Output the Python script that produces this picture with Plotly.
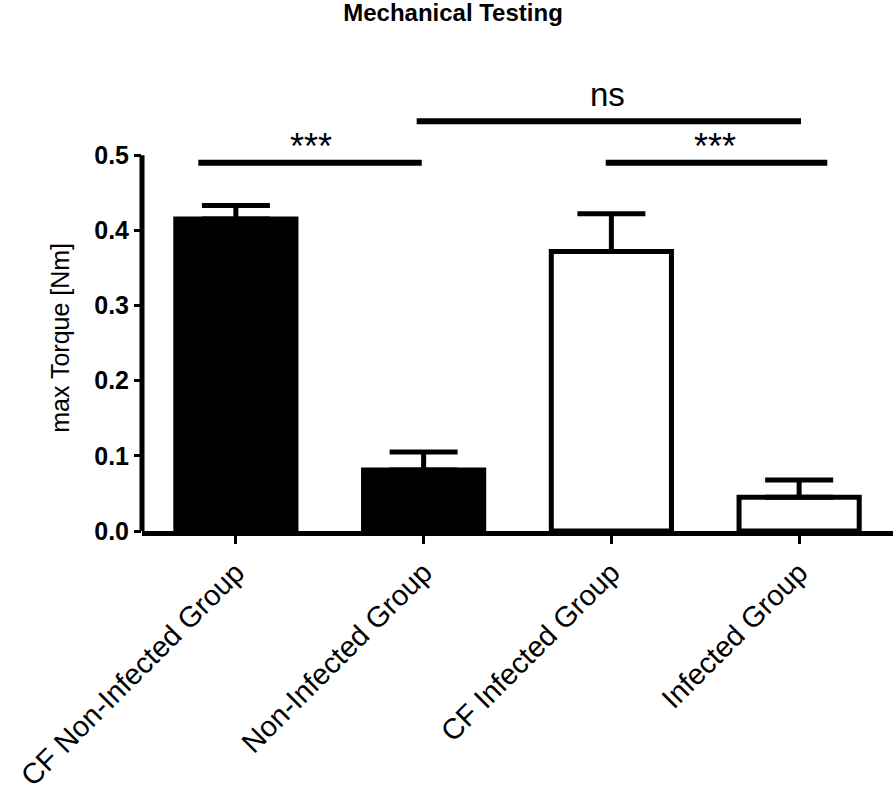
import plotly.graph_objects as go

categories = ["CF Non-Infected Group", "Non-Infected Group", "CF Infected Group", "Infected Group"]
means = [0.415, 0.081, 0.372, 0.045]
sem = [0.018, 0.024, 0.050, 0.023]
fill_colors = ["black", "black", "white", "white"]
y_ticks = [0.0, 0.1, 0.2, 0.3, 0.4, 0.5]

# significance brackets
sig_x0 = [-0.2, 0.963, 1.97]
sig_x1 = [0.99, 3.01, 3.15]
sig_y = [0.490, 0.545, 0.490]
sig_labels = ["***", "ns", "***"]
sig_label_x = [0.40, 1.98, 2.55]
sig_label_y = [0.482, 0.554, 0.482]

xpos = list(range(len(categories)))

fig = go.Figure()
fig.add_trace(go.Bar(
    x=xpos, y=means, width=0.64,
    marker=dict(color=fill_colors, line=dict(color="black", width=5)),
    error_y=dict(type="data", symmetric=False, array=sem, arrayminus=[0] * len(sem),
                 color="black", thickness=5, width=34),
    showlegend=False,
))

for x0, x1, y in zip(sig_x0, sig_x1, sig_y):
    fig.add_shape(type="line", xref="x", yref="y", x0=x0, x1=x1, y0=y, y1=y,
                  line=dict(color="black", width=6), layer="above")

for lab, lx, ly in zip(sig_labels, sig_label_x, sig_label_y):
    fig.add_annotation(x=lx, y=ly, xref="x", yref="y", text=lab, showarrow=False,
                       yanchor="bottom",
                       font=dict(family="Liberation Sans, Arial", size=33 if lab == "ns" else 36, color="black"))

# y axis line only up to 0.5
fig.add_shape(type="line", xref="paper", yref="y", x0=0, x1=0, y0=0, y1=y_ticks[-1],
              line=dict(color="black", width=5), layer="above")

fig.add_annotation(x=0, y=0.257, xref="paper", yref="y", xshift=-82, text="max Torque [Nm]",
                   textangle=-90, showarrow=False, xanchor="center", yanchor="middle",
                   font=dict(family="Liberation Sans, Arial", size=25, color="black"))

fig.update_layout(
    width=896, height=805,
    margin=dict(l=142, r=3, t=80, b=274, autoexpand=False),
    paper_bgcolor="white", plot_bgcolor="white",
    title=dict(text="<b>Mechanical Testing</b>", x=453 / 896, xanchor="center",
               y=1 - 13 / 805, yanchor="middle", yref="container",
               font=dict(family="Liberation Sans, Arial", size=24, color="black")),
    xaxis=dict(range=[-0.5, 3.5], tickvals=xpos, ticktext=categories, tickangle=-45,
               showline=True, linewidth=5, linecolor="black", ticks="outside",
               tickwidth=3, ticklen=8, tickcolor="black", showgrid=False, zeroline=False,
               ticklabeloverflow="allow", automargin=False,
               tickfont=dict(family="Liberation Sans, Arial", size=29, color="black")),
    yaxis=dict(range=[0, 0.6], tickvals=y_ticks, ticktext=["%.1f" % v for v in y_ticks],
               showline=False, ticks="outside", tickwidth=3, ticklen=7, tickcolor="black",
               showgrid=False, zeroline=False, automargin=False,
               tickfont=dict(family="Liberation Sans, Arial", size=25, color="black", weight="bold")),
)

fig.write_html("out.html", config={"displayModeBar": False},
               post_script="document.body.style.margin='0px';")
